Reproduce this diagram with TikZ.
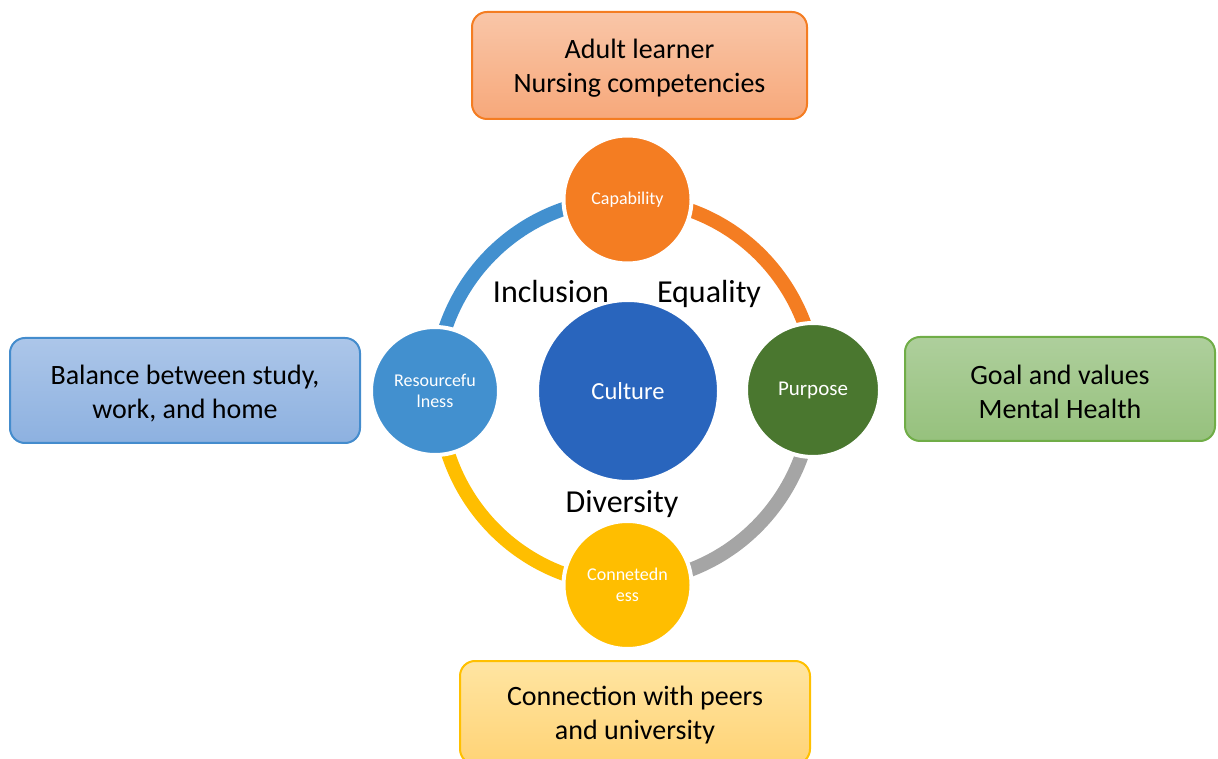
\documentclass[tikz,border=0pt]{standalone}
\usepackage{fontspec}
\setmainfont{Carlito}
\usetikzlibrary{backgrounds}
\definecolor{cultureblue}{RGB}{41,101,189}
\definecolor{caporange}{RGB}{244,125,34}
\definecolor{purgreen}{RGB}{74,119,47}
\definecolor{resblue}{RGB}{66,144,207}
\definecolor{conyellow}{RGB}{255,190,0}
\definecolor{arcgray}{RGB}{165,165,165}
\definecolor{topA}{RGB}{249,198,168}
\definecolor{topB}{RGB}{247,168,122}
\definecolor{topD}{RGB}{244,125,34}
\definecolor{leftA}{RGB}{172,198,233}
\definecolor{leftB}{RGB}{141,177,224}
\definecolor{leftD}{RGB}{68,140,205}
\definecolor{rightA}{RGB}{174,207,156}
\definecolor{rightB}{RGB}{150,193,125}
\definecolor{rightD}{RGB}{112,173,71}
\definecolor{botA}{RGB}{255,229,162}
\definecolor{botB}{RGB}{255,211,118}
\definecolor{botD}{RGB}{255,192,0}
\newcommand{\boxstrut}{\rule{0pt}{25pt}}
\begin{document}
\begin{tikzpicture}[x=1pt,y=1pt,
  ringarc/.style={line width=14pt},
  dot/.style={circle, draw=white, line width=4pt, text=white, inner sep=0pt, align=center},
  smalltxt/.style={font=\fontsize{18}{21}\selectfont},
  box/.style={rounded corners=15pt, line width=2pt, align=center, inner sep=0pt,
    font=\fontsize{28}{34}\selectfont},
  biglabel/.style={font=\fontsize{32}{38}\selectfont, anchor=base, inner sep=0pt}]
\path[use as bounding box] (0,0) rectangle (1218,758);
\clip (0,0) rectangle (1218,758);

% boxes
\node[box, draw=topD, top color=topA, bottom color=topB, minimum width=335pt, minimum height=107pt] (top) at (639.5,692.5) {\boxstrut Adult learner\\Nursing competencies};
\node[box, draw=leftD, top color=leftA, bottom color=leftB, minimum width=350pt, minimum height=105pt] (left) at (185,367.5) {\boxstrut Balance between study,\\work, and home};
\node[box, draw=rightD, top color=rightA, bottom color=rightB, minimum width=310pt, minimum height=104pt] (right) at (1060,369) {\boxstrut Goal and values\\Mental Health};
\node[box, draw=botD, top color=botA, bottom color=botB, minimum width=350pt, minimum height=103pt] (bottom) at (635,45.5) {\boxstrut Connection with peers\\and university};

% circles
\node[dot, fill=cultureblue, minimum size=182pt, font=\fontsize{24.5}{29}\selectfont] (culture) at (628,367) {Culture};
\node[dot, fill=caporange, minimum size=128pt, smalltxt] (cap) at (627.5,558.5) {Capability};
\node[dot, fill=purgreen, minimum size=134pt, font=\fontsize{21}{25}\selectfont] (pur) at (813,368) {Purpose};
\node[dot, fill=resblue, minimum size=128pt, smalltxt] (res) at (435,367) {Resourcefu\\lness};
\node[dot, fill=conyellow, minimum size=128pt, smalltxt] (con) at (627.5,173) {Connetedn\\ess};

% ring arcs
\begin{pgfonlayer}{background}
\draw[ringarc, resblue] (res.center) arc[start angle=180, end angle=90, x radius=189, y radius=192];
\draw[ringarc, caporange] (cap.center) arc[start angle=90, end angle=0, x radius=189, y radius=192];
\draw[ringarc, arcgray] (pur.center) arc[start angle=0, end angle=-90, x radius=189, y radius=192];
\draw[ringarc, conyellow] (con.center) arc[start angle=-90, end angle=-180, x radius=189, y radius=192];
\end{pgfonlayer}

% labels
\node[biglabel] (incl) at (551,455) {Inclusion};
\node[biglabel] (equal) at (709,455) {Equality};
\node[biglabel] (div) at (622,245) {Diversity};
\end{tikzpicture}
\end{document}
